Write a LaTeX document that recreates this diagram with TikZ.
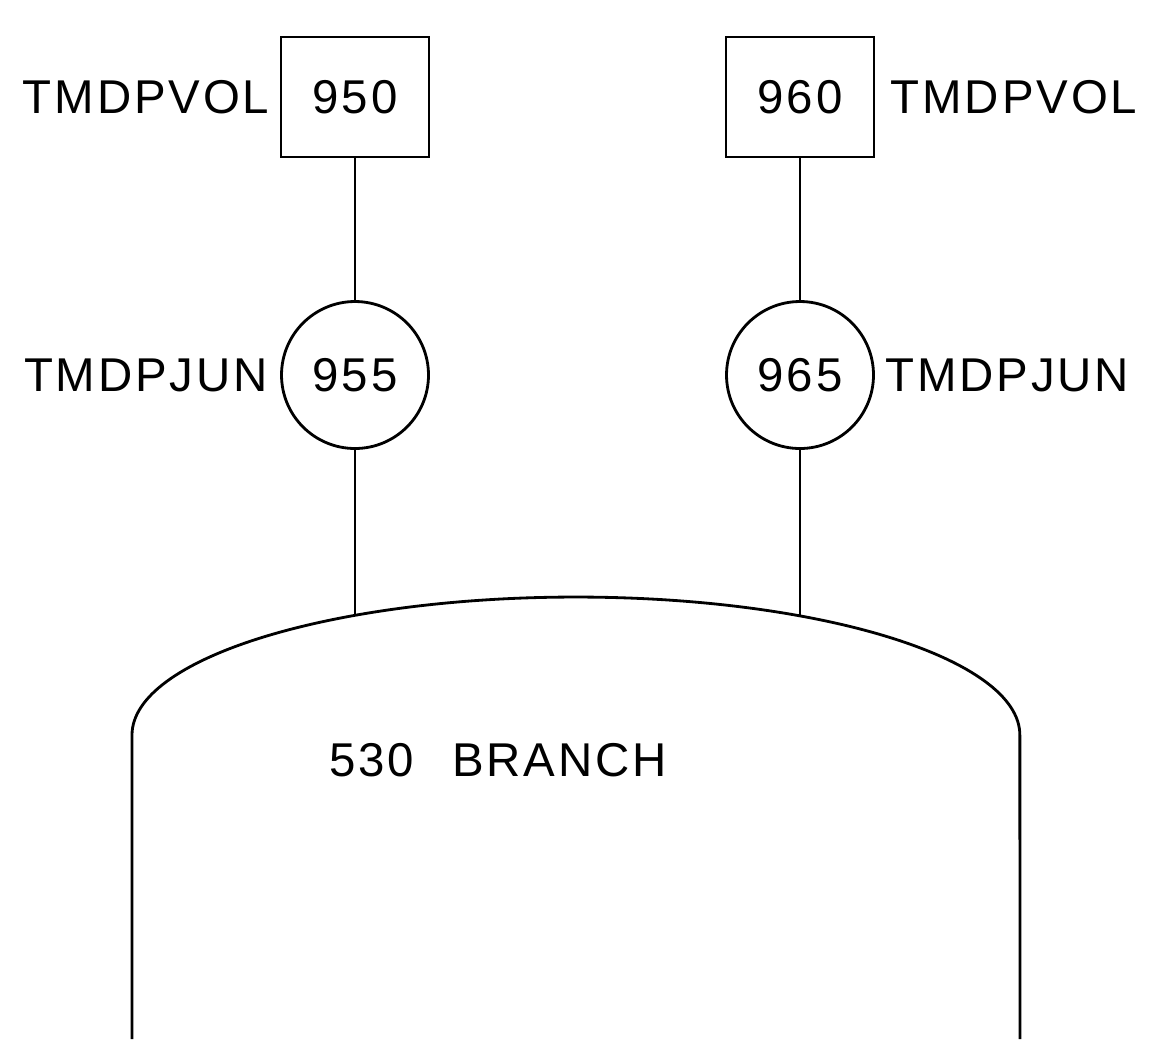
\documentclass[tikz,border=0pt]{standalone}
\usepackage{fontspec}
\setmainfont{Liberation Sans}
\newfontfamily\plotfont[LetterSpace=6]{Liberation Sans}
\usetikzlibrary{positioning}

\begin{document}
\begin{tikzpicture}[
    x=0.02cm, y=-0.02cm,
    font=\plotfont\fontsize{27}{30}\selectfont,
    volbox/.style={rectangle, draw, line width=1.6pt, minimum width=2.96cm,
                   minimum height=2.4cm, inner sep=0pt},
    junc/.style={circle, draw, line width=1.6pt, minimum size=2.94cm, inner sep=0pt},
    lbl/.style={inner sep=0pt},
    pipe/.style={line width=1.6pt}
]
\useasboundingbox (0,0) rectangle (1151,1039);

% time dependent volumes and junctions
\node[volbox] (v950) at (355,97)  {950};
\node[volbox] (v960) at (800,97)  {960};
\node[junc]   (j955) at (355,375) {955};
\node[junc]   (j965) at (800,375) {965};

\node[lbl, left=0.2cm of v950]   (t950) {TMDPVOL};
\node[lbl, right=0.3cm of v960]  (t960) {TMDPVOL};
\node[lbl, left=0.24cm of j955]  (t955) {TMDPJUN};
\node[lbl, right=0.2cm of j965]  (t965) {TMDPJUN};

% branch 530
\draw[pipe] (132,1039) -- (132,735)
    arc[start angle=180, end angle=0, x radius=8.88cm, y radius=2.76cm] -- (1020,1039);
\node[lbl] (br530) at (498,760) {530\hspace{0.8em}BRANCH};
\coordinate (b955) at (355,616);
\coordinate (b965) at (800,616);

\foreach \from/\to in {v950/j955, j955/b955, v960/j965, j965/b965}
    \draw[pipe] (\from) -- (\to);
\end{tikzpicture}
\end{document}
